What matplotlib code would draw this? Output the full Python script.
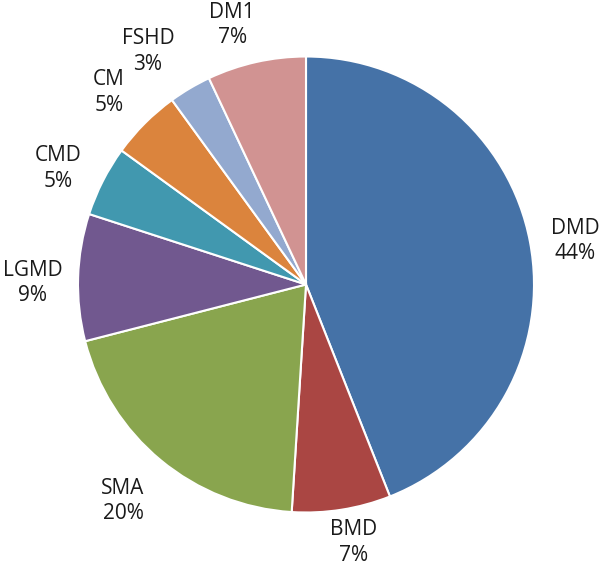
import matplotlib
matplotlib.use("Agg")
import numpy as np
import matplotlib.pyplot as plt

# Muscular disease distribution (clockwise from 12 o'clock)
categories = ["DMD", "BMD", "SMA", "LGMD", "CMD", "CM", "FSHD", "DM1"]
percent = [44, 7, 20, 9, 5, 5, 3, 7]
colors = ["#4572A7", "#AA4643", "#89A54E", "#71588F",
          "#4198AF", "#DB843D", "#93A9CF", "#D19392"]

# label placement: distance (pie radii) and angle nudge (deg) per slice
label_r = [1.195, 1.15, 1.243, 1.2, 1.2, 1.208, 1.236, 1.183]
label_nudge = [-1.6, 1.4, -0.6, 1.5, 2.0, 0.7, 3.5, 3.3]

plt.rcParams["font.family"] = ["Open Sans", "DejaVu Sans"]

fig = plt.figure(figsize=(6.0, 5.67), dpi=100)
ax = fig.add_axes([0, 0, 1, 1])

wedges, _ = ax.pie(percent, colors=colors,
                   startangle=90, counterclock=False,
                   wedgeprops=dict(edgecolor="white", linewidth=1.5))

for w, c, p, r, d in zip(wedges, categories, percent, label_r, label_nudge):
    ang = np.radians((w.theta1 + w.theta2) / 2 + d)
    ax.text(r * np.cos(ang), r * np.sin(ang), f"{c}\n{p}%",
            ha="center", va="center", fontsize=15, color="#1a1a1a",
            linespacing=1.3)

# pie centre at (306, 284) px, radius 228 px
ax.set_xlim(-306 / 228, 294 / 228)
ax.set_ylim(-(567 - 284.5) / 228, 284.5 / 228)
ax.set_aspect("equal")
ax.axis("off")

fig.savefig("out.png", dpi=100, facecolor="white")
